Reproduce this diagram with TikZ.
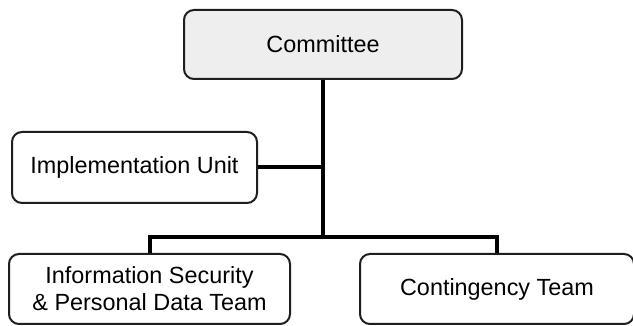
\documentclass[tikz,border=0pt]{standalone}
\usepackage{fontspec}
\setmainfont{Liberation Sans}
\usetikzlibrary{positioning}
\definecolor{boxgray}{RGB}{238,238,238}
\definecolor{linegray}{RGB}{30,30,30}
\tikzset{
    % Basic unit box
    unitbox/.style={
        draw=linegray, fill=white, rounded corners=5pt,
        line width=1pt, inner sep=0pt, align=center,
        font=\fontsize{11.7}{13.5}\selectfont
    },
    % Top box with grey fill
    topbox/.style={unitbox, fill=boxgray},
    % Tree connectors
    treeedge/.style={line width=2pt, draw=black, line join=miter},
}
\begin{document}
\begin{tikzpicture}[x=0.5pt,y=-0.5pt]
      \useasboundingbox (0,0) rectangle (633,326);
      \node[topbox, minimum width=139pt, minimum height=34.5pt] (com) at (323,44.5) {Committee};
      \node[unitbox, minimum width=122.5pt, minimum height=35.5pt] (impl) at (134.5,167.5) {Implementation Unit};
      \node[unitbox, minimum width=140.5pt, minimum height=35pt] (info) at (149.5,289) {Information Security\\\& Personal Data Team};
      \node[unitbox, minimum width=137pt, minimum height=35pt] (cont) at (497,289) {Contingency Team};
      \coordinate (bar) at (323,237);
      % trunk and branches
      \draw[treeedge] (com.south) -- (bar);
      \draw[treeedge] (impl.east) -- (impl.east -| com.south);
      \draw[treeedge] (info.north) |- (bar) -| (cont.north);
\end{tikzpicture}
\end{document}
